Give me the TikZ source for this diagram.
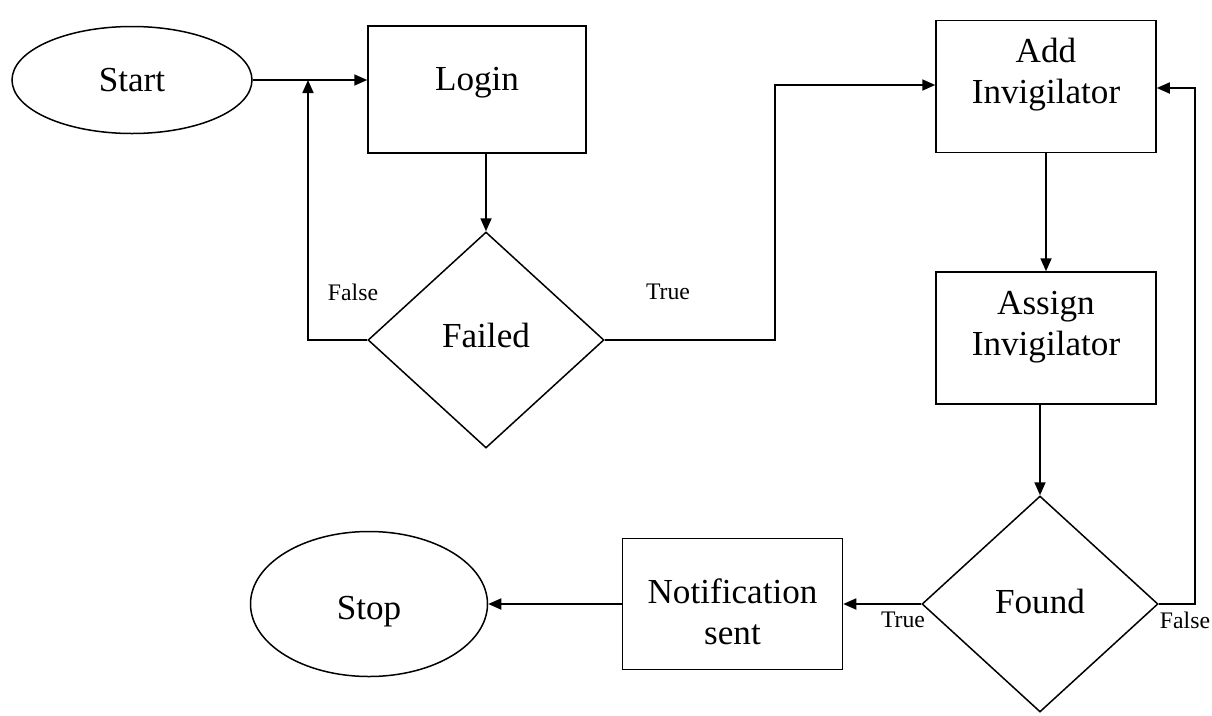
\documentclass[tikz,border=0pt]{standalone}
\usepackage{fontspec}
\setmainfont{Liberation Serif}
\usepackage{tikz}
\usetikzlibrary{shapes.geometric,arrows.meta,positioning,calc}

\begin{document}
\begin{tikzpicture}[
    x=0.2mm, y=-0.2mm,
    terminal/.style={ellipse, draw, line width=0.3mm, inner sep=0pt, font=\fontsize{20}{23}\selectfont},
    process/.style={rectangle, draw, line width=0.3mm, align=center, minimum width=44mm, minimum height=26.4mm, font=\fontsize{20}{23}\selectfont},
    decision/.style={diamond, draw, line width=0.3mm, inner sep=0pt, minimum width=47.2mm, minimum height=43.2mm, font=\fontsize{20}{23}\selectfont},
    arrow/.style={-{Triangle[length=2.6mm,width=2.2mm]}, line width=0.35mm},
    branch/.style={font=\fontsize{13.5}{15}\selectfont}
]
    \useasboundingbox (0,0) rectangle (1212,715);

    \node[terminal, minimum width=48mm, minimum height=21.4mm] (start) at (132,80) {Start};
    \node[process, minimum width=43.6mm, minimum height=25.4mm, text depth=4.3mm] (login) at (477,89.5) {Login};
    \node[decision, text depth=2mm] (failed) at (486,340) {Failed};
    \node[process, text depth=6.3mm] (add) at (1046,86.5) {Add\\Invigilator};
    \node[process, text depth=5.9mm] (assign) at (1046,338) {Assign\\Invigilator};
    \node[decision, text depth=1.2mm] (found) at (1040,604) {Found};
    \node[process, minimum height=26.2mm, text height=16.1mm] (notif) at (732.5,604) {Notification\\sent};
    \node[terminal, minimum width=47.4mm, minimum height=29mm, text height=7.6mm] (stop) at (369,604) {Stop};

    % elbow points
    \coordinate (fj) at (308,80);
    \coordinate (tj) at (775,85);
    \coordinate (fr) at (1195,88);

    \draw[arrow] (start.east) -- (login.west |- start.east);
    \draw[arrow] (login.south -| failed.north) -- (failed.north);
    \draw[arrow] (failed.west) -| (fj);
    \draw[arrow] (failed.east) -| (tj) -- (tj -| add.west);
    \draw[arrow] (add.south) -- (assign.north);
    \draw[arrow] (assign.south -| found.north) -- (found.north);
    \draw[arrow] (found.west) -- (found.west -| notif.east);
    \draw[arrow] (found.east) -| (fr) -- (fr -| add.east);
    \draw[arrow] (notif.west) -- (stop.east);

    \node[branch] (lfalse) at (353,292) {False};
    \node[branch] (ltrue) at (668,292) {True};
    \node[branch] (ftrue) at (903,620) {True};
    \node[branch] (ffalse) at (1185,620) {False};
\end{tikzpicture}
\end{document}
